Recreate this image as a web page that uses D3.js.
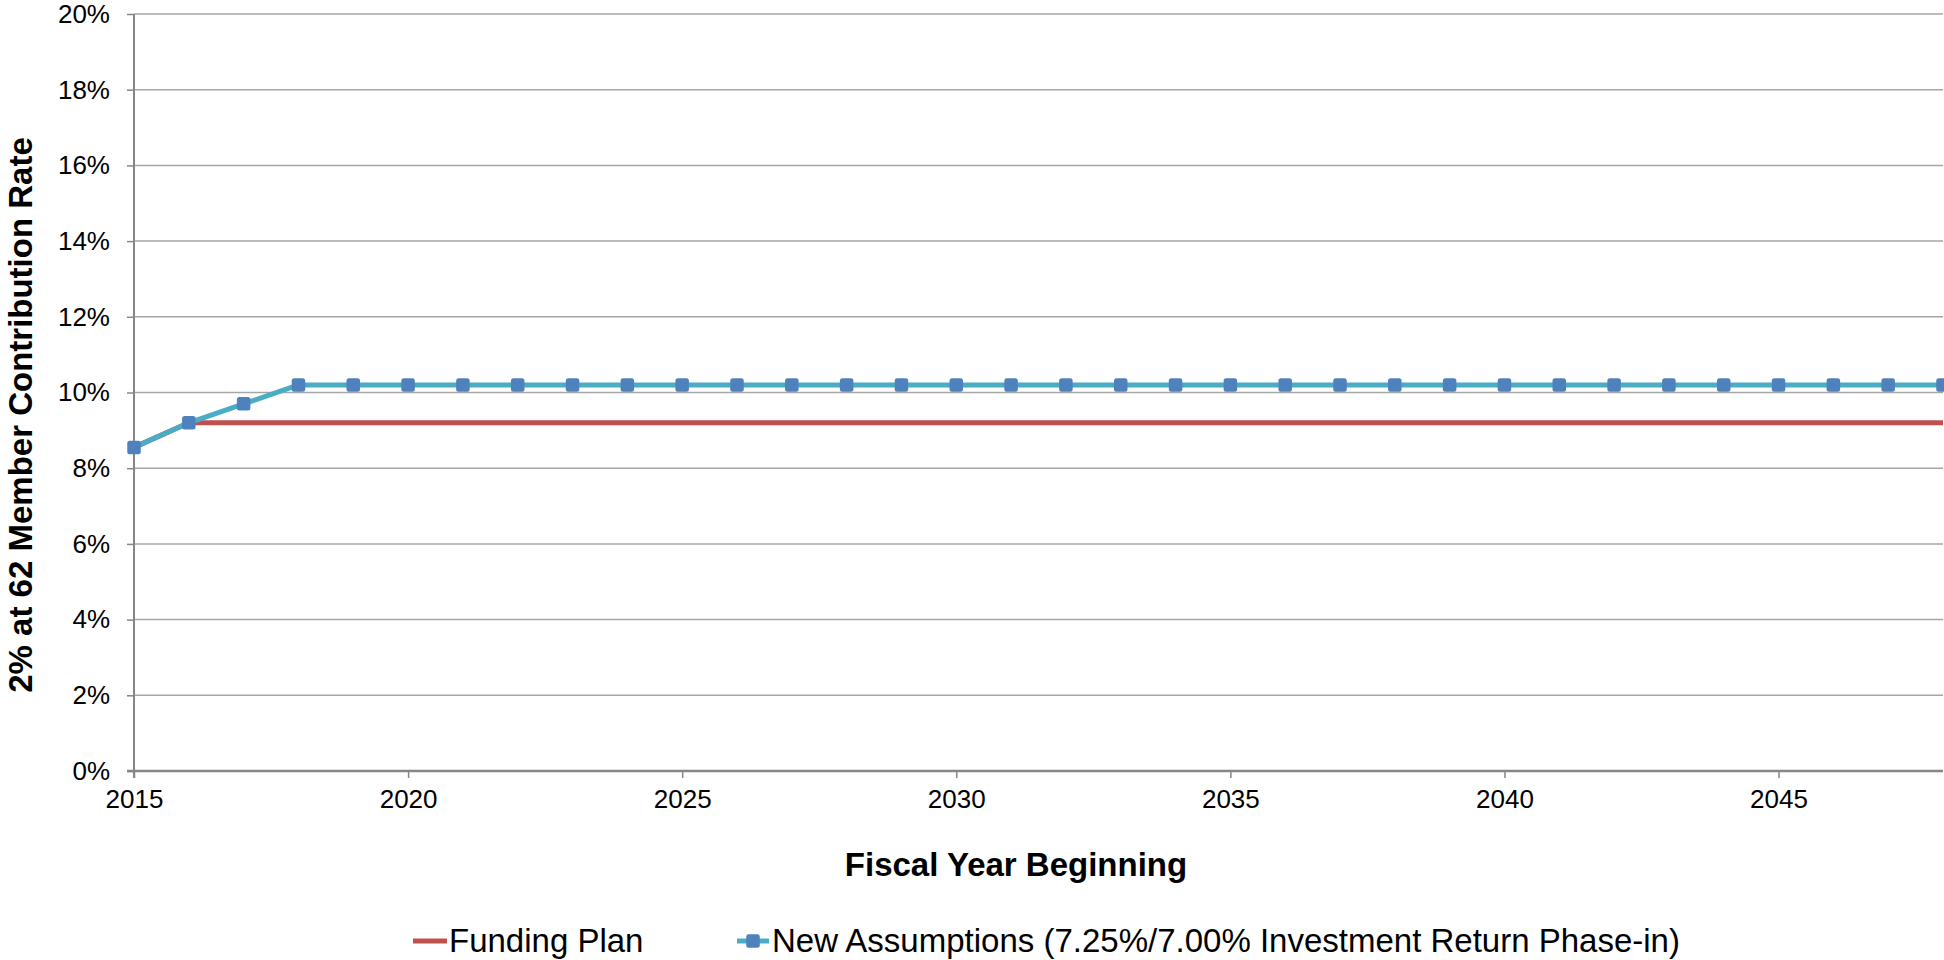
<!DOCTYPE html>
<html>
<head>
<meta charset="utf-8">
<script src="https://cdn.jsdelivr.net/npm/d3@7"></script>
<style>
  html, body { margin: 0; padding: 0; background: #fff; }
  svg { display: block; font-family: "Liberation Sans", Arial, sans-serif; }
</style>
</head>
<body>
<svg id="chart" width="1944" height="960"></svg>
<script>
// Fiscal years shown on the horizontal axis
const years = [2015, 2016, 2017, 2018, 2019, 2020, 2021, 2022, 2023, 2024,
  2025, 2026, 2027, 2028, 2029, 2030, 2031, 2032, 2033, 2034,
  2035, 2036, 2037, 2038, 2039, 2040, 2041, 2042, 2043, 2044,
  2045, 2046, 2047, 2048];

// Member contribution rate under the funding plan
const fundingPlan = [0.0855, 0.092, 0.092, 0.092, 0.092, 0.092, 0.092, 0.092, 0.092, 0.092,
  0.092, 0.092, 0.092, 0.092, 0.092, 0.092, 0.092, 0.092, 0.092, 0.092,
  0.092, 0.092, 0.092, 0.092, 0.092, 0.092, 0.092, 0.092, 0.092, 0.092,
  0.092, 0.092, 0.092, 0.092];

// Member contribution rate under the new assumptions
const newAssumptions = [0.0855, 0.092, 0.097, 0.102, 0.102, 0.102, 0.102, 0.102, 0.102, 0.102,
  0.102, 0.102, 0.102, 0.102, 0.102, 0.102, 0.102, 0.102, 0.102, 0.102,
  0.102, 0.102, 0.102, 0.102, 0.102, 0.102, 0.102, 0.102, 0.102, 0.102,
  0.102, 0.102, 0.102, 0.102];

const yTicks = [0, 0.02, 0.04, 0.06, 0.08, 0.10, 0.12, 0.14, 0.16, 0.18, 0.20];
const xTicks = [2015, 2020, 2025, 2030, 2035, 2040, 2045];

const seriesNames = ["Funding Plan", "New Assumptions (7.25%/7.00% Investment Return Phase-in)"];
const colors = { funding: "#C0504D", line: "#4BACC6", marker: "#4F81BD" };

const svg = d3.select("#chart");
const plot = { left: 134, right: 1943, top: 14, bottom: 771 };
const tickFont = 26;

const x = d3.scaleLinear().domain([2015, 2048]).range([plot.left, plot.right]);
const y = d3.scaleLinear().domain([0, 0.20]).range([plot.bottom, plot.top]);

// Horizontal gridlines
svg.append("g")
  .selectAll("line")
  .data(yTicks.filter(d => d > 0))
  .join("line")
  .attr("x1", plot.left).attr("x2", plot.right)
  .attr("y1", d => y(d)).attr("y2", d => y(d))
  .attr("stroke", "#a6a6a6")
  .attr("stroke-width", 1.5);

// Y axis
const yAxis = svg.append("g")
  .attr("transform", `translate(${plot.left},0)`)
  .call(d3.axisLeft(y).tickValues(yTicks).tickFormat(d3.format(".0%")).tickSize(7).tickPadding(17));
yAxis.select(".domain").attr("stroke", "#868686").attr("stroke-width", 2)
  .attr("d", `M0,${plot.top}V${plot.bottom + 7}`);
yAxis.selectAll(".tick line").attr("stroke", "#868686").attr("stroke-width", 1.5);
yAxis.selectAll(".tick text")
  .attr("font-size", tickFont).attr("fill", "#000")
  .attr("font-family", "'Liberation Sans', Arial, sans-serif");

// X axis
const xAxis = svg.append("g")
  .attr("transform", `translate(0,${plot.bottom})`)
  .call(d3.axisBottom(x).tickValues(xTicks).tickFormat(d3.format("d")).tickSize(7).tickPadding(12));
xAxis.select(".domain").attr("stroke", "#868686").attr("stroke-width", 2.5)
  .attr("d", `M${plot.left - 7},0H${plot.right}`);
xAxis.selectAll(".tick line").attr("stroke", "#868686").attr("stroke-width", 1.5);
xAxis.selectAll(".tick text")
  .attr("font-size", tickFont).attr("fill", "#000")
  .attr("font-family", "'Liberation Sans', Arial, sans-serif");

// Axis titles
svg.append("text")
  .attr("transform", `translate(32,415) rotate(-90)`)
  .attr("text-anchor", "middle")
  .attr("font-size", 33).attr("font-weight", "bold")
  .text("2% at 62 Member Contribution Rate");

svg.append("text")
  .attr("x", 1016).attr("y", 876)
  .attr("text-anchor", "middle")
  .attr("font-size", 33).attr("font-weight", "bold")
  .text("Fiscal Year Beginning");

// Series lines
const line = d3.line().x((d, i) => x(years[i])).y(d => y(d));

svg.append("path")
  .datum(fundingPlan)
  .attr("d", line)
  .attr("fill", "none")
  .attr("stroke", colors.funding)
  .attr("stroke-width", 5)
  .attr("stroke-linejoin", "round");

svg.append("path")
  .datum(newAssumptions)
  .attr("d", line)
  .attr("fill", "none")
  .attr("stroke", colors.line)
  .attr("stroke-width", 5)
  .attr("stroke-linejoin", "round");

const ms = 13.5;
svg.append("g")
  .selectAll("rect")
  .data(newAssumptions)
  .join("rect")
  .attr("x", (d, i) => x(years[i]) - ms / 2)
  .attr("y", d => y(d) - ms / 2)
  .attr("width", ms).attr("height", ms)
  .attr("rx", 2.5)
  .attr("fill", colors.marker);

// Legend
const legend = svg.append("g");
legend.append("line")
  .attr("x1", 413).attr("x2", 447).attr("y1", 941).attr("y2", 941)
  .attr("stroke", colors.funding).attr("stroke-width", 5);
legend.append("text")
  .attr("x", 449).attr("y", 952)
  .attr("font-size", 33)
  .text(seriesNames[0]);

legend.append("line")
  .attr("x1", 737).attr("x2", 769).attr("y1", 941).attr("y2", 941)
  .attr("stroke", colors.line).attr("stroke-width", 5);
legend.append("rect")
  .attr("x", 753 - ms / 2).attr("y", 941 - ms / 2)
  .attr("width", ms).attr("height", ms).attr("rx", 2.5)
  .attr("fill", colors.marker);
legend.append("text")
  .attr("x", 772).attr("y", 952)
  .attr("font-size", 33)
  .text(seriesNames[1]);
</script>
</body>
</html>
